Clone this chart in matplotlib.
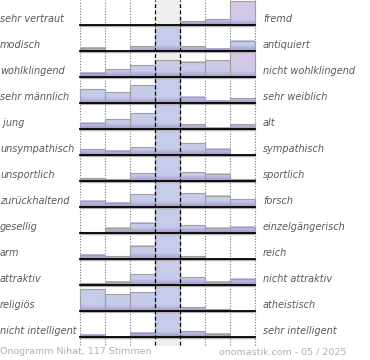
import numpy as np
import matplotlib
matplotlib.use("Agg")
import matplotlib.pyplot as plt
from matplotlib.colors import to_rgb

# Onogramm: Bewertungen je Eigenschaftspaar (7 Stufen), Balkenhöhe in Pixeln (max. 25)
left_labels = ["sehr vertraut", "modisch", "wohlklingend", "sehr männlich", " jung",
               "unsympathisch", "unsportlich", "zurückhaltend", "gesellig", "arm",
               "attraktiv", "religiös", "nicht intelligent"]
right_labels = ["fremd", "antiquiert", "nicht wohlklingend", "sehr weiblich", "alt",
                "sympathisch", "sportlich", "forsch", "einzelgängerisch", "reich",
                "nicht attraktiv", "atheistisch", "sehr intelligent"]
values = [
    [0, 0, 0, 0, 4, 5.7, 24],
    [3.3, 0, 4.7, 25, 4.7, 2.3, 10.3],
    [4.3, 7.7, 12, 17, 15.3, 17, 25],
    [14, 10.7, 17.7, 25, 6.3, 2.3, 5],
    [6.3, 9.7, 15.7, 25, 4.7, 1.5, 4.7],
    [5.7, 4.3, 7.7, 25, 11.7, 6.3, 0],
    [3, 2, 7.7, 25, 8.7, 7.3, 2],
    [6.3, 4.3, 12.7, 25, 13.7, 11.3, 7.7],
    [0.7, 5.3, 10.3, 25, 7.7, 5.3, 6.3],
    [4.3, 2.7, 13.3, 25, 3, 0, 0],
    [1.7, 3.3, 11, 25, 7.7, 3.3, 6.3],
    [22, 16.7, 18.7, 25, 3.7, 1.7, 0],
    [2.3, 0.5, 4.3, 25, 5.7, 3.3, 0],
]
footer_left = "Onogramm Nihat, 117 Stimmen"
footer_right = "onomastik.com - 05 / 2025"

W, H = 370, 360
X0, COL = 80, 25          # first column edge and column width in px
TOP, ROW = 25, 26         # first baseline and row spacing in px

fig = plt.figure(figsize=(W / 100, H / 100), dpi=100)
ax = fig.add_axes([0, 0, 1, 1])
ax.set_axis_off()

purple = np.array(to_rgb("#a296ca"))
blue = np.array(to_rgb("#c6cce9"))
pink = np.array(to_rgb("#dcc6e6"))

# middle column background and grid
ax.axvspan(3, 4, ymin=15 / H, ymax=1, color="#efefef", zorder=0)
for x in [0, 1, 2, 5, 6, 7]:
    ax.plot([x, x], [15, H], color="#777777", lw=0.8, ls=(0, (1, 1.5)), zorder=1)

n = len(values)
for i in range(n):
    base = H - (TOP + ROW * i)
    for j, h in enumerate(values[i]):
        h = min(h, ROW - 1)
        if h <= 0:
            continue
        pf = 0.0
        if j >= 3 and not (j == 3 and h >= ROW - 1):
            pf = np.clip((h - 12) / 12, 0, 1)
        npx = max(2, int(h * 3))
        d = np.linspace(0, h, npx)
        a = np.clip(d / 6, 0, 1)[:, None]
        col = purple * (1 - a) + blue * a
        tp = (pf * d / h)[:, None]
        col = col * (1 - tp) + pink * tp
        ax.imshow(col[:, None, :], extent=[j, j + 1, base, base + h], origin="lower",
                  aspect="auto", interpolation="bilinear", zorder=2)
    ax.bar(np.arange(7) + 0.5, np.minimum(values[i], ROW - 1), width=1, bottom=base,
           facecolor="none", edgecolor="#a0a0a0", lw=0.8, zorder=3)
    ax.plot([0, 7], [base - 1.2, base - 1.2], color="#b0b0b0", lw=0.9, zorder=4)
    ax.plot([0, 7], [base, base], color="black", lw=1.3, zorder=5)
    ax.text(-X0 / COL, base + 5.5, left_labels[i], ha="left", va="center",
            fontsize=7, style="italic", color="#5a5a5a")
    ax.text(7.32, base + 5.5, right_labels[i], ha="left", va="center",
            fontsize=7, style="italic", color="#5a5a5a")

for x in [3, 4]:
    ax.plot([x, x], [15, H], color="black", lw=0.9, ls=(0, (3, 2)), zorder=6)

ax.text(-X0 / COL, 8, footer_left, ha="left", va="center", fontsize=6.8, color="#b0b0b0")
ax.text((346 - X0) / COL, 8, footer_right, ha="right", va="center", fontsize=6.8,
        color="#b0b0b0")

ax.set_xlim(-X0 / COL, (W - X0) / COL)
ax.set_ylim(0, H)
fig.savefig("out.png", dpi=100)
